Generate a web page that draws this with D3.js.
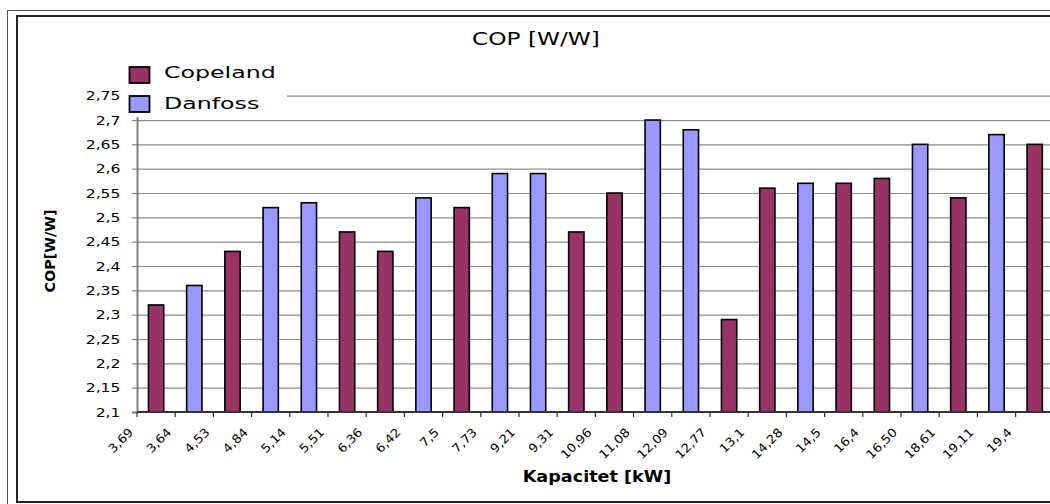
<!DOCTYPE html>
<html><head><meta charset="utf-8">
<script src="https://cdn.jsdelivr.net/npm/d3@7"></script>
<style>body{margin:0;background:#fff}svg{display:block}text{font-family:"DejaVu Sans",Verdana,sans-serif}</style>
</head><body>
<script>
const categories = ["3,69","3,64","4,53","4,84","5,14","5,51","6,36","6,42","7,5","7,73","9,21","9,31","10,96","11,08","12,09","12,77","13,1","14,28","14,5","16,4","16,50","18,61","19,11","19,4"];
const copeland = [2.32,null,2.43,null,null,2.47,2.43,null,2.52,null,null,2.47,2.55,null,null,2.29,2.56,null,2.57,2.58,null,2.54,null,2.65];
const danfoss  = [null,2.36,null,2.52,2.53,null,null,2.54,null,2.59,2.59,null,null,2.70,2.68,null,null,2.57,null,null,2.65,null,2.67,null];
const yTicks = [2.1,2.15,2.2,2.25,2.3,2.35,2.4,2.45,2.5,2.55,2.6,2.65,2.7,2.75];
const seriesNames = ["Copeland","Danfoss"];
const seriesColors = ["#993366","#9999FF"];
const titleText = "COP [W/W]";
const xTitle = "Kapacitet [kW]";
const yTitle = "COP[W/W]";

(function(){
const W = 1050, H = 504;
const pL = 137, pB = 412, pT = 95.7, pR = 137 + 24*38.2;
const svg = d3.select("body").append("svg").attr("width", W).attr("height", H);

function stretch(sel, f){ sel.each(function(){ const L=this.getComputedTextLength(); this.setAttribute("textLength", L*f); this.setAttribute("lengthAdjust","spacingAndGlyphs"); }); }

// frame
svg.append("rect").attr("x",7.5).attr("y",10.5).attr("width",1100).attr("height",600).attr("fill","none").attr("stroke","#555").attr("stroke-width",1);
svg.append("rect").attr("x",17).attr("y",16).attr("width",1100).attr("height",486).attr("fill","#fff").attr("stroke","#222").attr("stroke-width",2);

const x = d3.scaleBand().domain(categories).range([pL, pR]).paddingInner(0.6).paddingOuter(0.3);
const y = d3.scaleLinear().domain([2.1, 2.75]).range([pB, pT]);
const fmt = v => String(v).replace(".", ",");

// gridlines
svg.append("g").attr("transform",`translate(${pL},0)`)
  .call(d3.axisLeft(y).tickValues(yTicks.slice(1)).tickSize(-(pR-pL)).tickFormat(""))
  .call(g=>{ g.select(".domain").remove(); g.selectAll("line").attr("stroke","#8c8c8c").attr("stroke-width",1.2); });

// bars
const series = [copeland, danfoss];
series.forEach((vals, si)=>{
  svg.append("g").selectAll("rect").data(categories.map((c,i)=>({c, v: vals[i]})).filter(d=>d.v!=null))
    .join("rect")
    .attr("x", d=>x(d.c)).attr("width", x.bandwidth())
    .attr("y", d=>y(d.v)).attr("height", d=>pB - y(d.v))
    .attr("fill", seriesColors[si]).attr("stroke","#000").attr("stroke-width",1.6);
});

// y axis
const yAx = svg.append("g").attr("transform",`translate(${pL},0)`)
  .call(d3.axisLeft(y).tickValues(yTicks).tickSize(5).tickPadding(0).tickFormat(fmt));
yAx.select(".domain").attr("stroke","#808080").attr("stroke-width",2);
yAx.selectAll(".tick line").attr("stroke","#808080").attr("stroke-width",1.2);
yAx.selectAll(".tick text").attr("x",-16.5).attr("font-size",12.5).attr("fill","#000")
  .attr("font-family","DejaVu Sans").call(stretch,1.25);

// x axis
const step = x.step(), off = x.bandwidth()/2 - step/2;
svg.append("line").attr("x1",pL).attr("x2",W+10).attr("y1",pB).attr("y2",pB).attr("stroke","#333").attr("stroke-width",2);
const bounds = categories.map(c => x(c) + off).concat([x(categories[categories.length-1]) + off + step]);
svg.append("g").selectAll("line").data(bounds).join("line")
  .attr("x1",d=>d).attr("x2",d=>d).attr("y1",pB).attr("y2",pB+5).attr("stroke","#333").attr("stroke-width",1.2);
const lab = svg.append("g").selectAll("g").data(categories).join("g")
  .attr("transform", c=>"translate(" + (x(c)+off-3) + "," + (pB+21) + ")");
lab.append("text")
  .attr("transform","rotate(-45) scale(1.1,1)")
  .attr("text-anchor","end").attr("font-size",12).attr("fill","#000").text(c=>c);

// legend
svg.append("rect").attr("x",122).attr("y",58).attr("width",165).attr("height",59).attr("fill","#fff");
const legY = [67, 96], legBase = [78, 109];
seriesNames.forEach((n,i)=>{
  svg.append("rect").attr("x",129.5).attr("y",legY[i]).attr("width",20).attr("height",16)
    .attr("fill",seriesColors[i]).attr("stroke","#000").attr("stroke-width",1.8);
  svg.append("text").attr("x",164).attr("y",legBase[i]).attr("font-size",16).attr("fill","#000").text(n).call(stretch,1.48);
});

// titles
svg.append("text").attr("x",536).attr("y",45).attr("text-anchor","middle").attr("font-size",18).attr("fill","#000").text(titleText).call(stretch,1.29);
svg.append("text").attr("x",597).attr("y",482).attr("text-anchor","middle").attr("font-size",16).attr("font-weight","bold").attr("fill","#000").text(xTitle).call(stretch,1.1);
svg.append("text").attr("transform","translate(55,251) rotate(-90)").attr("text-anchor","middle").attr("font-size",13.5).attr("font-weight","bold").attr("fill","#000").text(yTitle).call(stretch,1.06);
})();
</script>
</body></html>
